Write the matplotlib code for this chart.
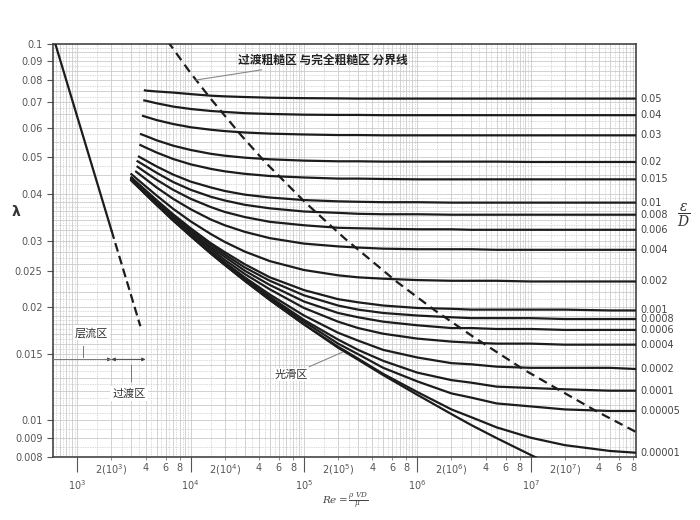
import matplotlib
matplotlib.use("Agg")
import matplotlib.pyplot as plt
import numpy as np

# ---- data ----
re_grid = [4e3, 5e3, 7e3, 1e4, 1.5e4, 2e4, 3e4, 5e4, 1e5, 2e5, 3e5, 5e5,
           1e6, 2e6, 3e6, 5e6, 1e7, 2e7, 5e7, 8.5e7]

rel_rough = ['0.05', '0.04', '0.03', '0.02', '0.015', '0.01', '0.008', '0.006',
             '0.004', '0.002', '0.001', '0.0008', '0.0006', '0.0004', '0.0002',
             '0.0001', '0.00005', '0.00001', '']

re_start = [3950, 3900, 3800, 3650, 3600, 3500, 3400, 3400, 3300, 3000, 3000,
            3000, 3000, 3000, 3000, 3000, 3000, 3000, 3000]
lam_start = [0.0753, 0.0708, 0.0644, 0.0576, 0.0539, 0.0502, 0.0488, 0.0472,
             0.0458, 0.0451, 0.0442, 0.0441, 0.0439, 0.0437, 0.0436, 0.0435,
             0.0435, 0.0434, 0.0434]

lam_005 = [0.0752, 0.0748, 0.0743, 0.0736, 0.0729, 0.0726, 0.0723, 0.0720, 0.0718, 0.0717,
           0.0716, 0.0716, 0.0716, 0.0716, 0.0716, 0.0716, 0.0716, 0.0716, 0.0716, 0.0716]
lam_004 = [0.0707, 0.0696, 0.0682, 0.0672, 0.0664, 0.0660, 0.0655, 0.0652, 0.0649, 0.0648,
           0.0648, 0.0647, 0.0647, 0.0647, 0.0647, 0.0647, 0.0647, 0.0647, 0.0647, 0.0647]
lam_003 = [0.0641, 0.0628, 0.0613, 0.0601, 0.0592, 0.0587, 0.0582, 0.0578, 0.0575, 0.0573,
           0.0573, 0.0572, 0.0572, 0.0572, 0.0572, 0.0572, 0.0572, 0.0572, 0.0572, 0.0572]
lam_002 = [0.0570, 0.0555, 0.0537, 0.0523, 0.0511, 0.0505, 0.0499, 0.0494, 0.0490, 0.0488,
           0.0488, 0.0487, 0.0487, 0.0487, 0.0487, 0.0487, 0.0486, 0.0486, 0.0486, 0.0486]
lam_0015 = [0.0531, 0.0515, 0.0495, 0.0479, 0.0466, 0.0459, 0.0452, 0.0446, 0.0442, 0.0439,
            0.0439, 0.0438, 0.0437, 0.0437, 0.0437, 0.0437, 0.0437, 0.0437, 0.0437, 0.0437]
lam_001 = [0.0491, 0.0473, 0.0450, 0.0431, 0.0416, 0.0407, 0.0398, 0.0391, 0.0385, 0.0382,
           0.0381, 0.0380, 0.0380, 0.0379, 0.0379, 0.0379, 0.0379, 0.0379, 0.0379, 0.0379]
lam_0008 = [0.0474, 0.0455, 0.0430, 0.0410, 0.0393, 0.0384, 0.0374, 0.0366, 0.0359, 0.0356,
            0.0354, 0.0353, 0.0353, 0.0352, 0.0352, 0.0352, 0.0352, 0.0352, 0.0352, 0.0352]
lam_0006 = [0.0456, 0.0436, 0.0410, 0.0388, 0.0369, 0.0358, 0.0347, 0.0337, 0.0330, 0.0325,
            0.0324, 0.0323, 0.0322, 0.0322, 0.0321, 0.0321, 0.0321, 0.0321, 0.0321, 0.0321]
lam_0004 = [0.0438, 0.0416, 0.0388, 0.0364, 0.0342, 0.0330, 0.0317, 0.0305, 0.0295, 0.0290,
            0.0288, 0.0286, 0.0285, 0.0285, 0.0285, 0.0284, 0.0284, 0.0284, 0.0284, 0.0284]
lam_0002 = [0.0419, 0.0396, 0.0365, 0.0338, 0.0313, 0.0298, 0.0281, 0.0265, 0.0251, 0.0243,
            0.0240, 0.0238, 0.0236, 0.0235, 0.0235, 0.0235, 0.0234, 0.0234, 0.0234, 0.0234]
lam_0001 = [0.0409, 0.0385, 0.0353, 0.0324, 0.0296, 0.0280, 0.0260, 0.0240, 0.0222, 0.0210,
            0.0206, 0.0202, 0.0199, 0.0198, 0.0197, 0.0197, 0.0197, 0.0197, 0.0196, 0.0196]
lam_00008 = [0.0407, 0.0383, 0.0350, 0.0321, 0.0293, 0.0276, 0.0255, 0.0235, 0.0215, 0.0202,
             0.0197, 0.0193, 0.0190, 0.0188, 0.0187, 0.0187, 0.0187, 0.0186, 0.0186, 0.0186]
lam_00006 = [0.0405, 0.0381, 0.0348, 0.0318, 0.0289, 0.0272, 0.0250, 0.0229, 0.0207, 0.0193,
             0.0188, 0.0183, 0.0179, 0.0176, 0.0176, 0.0175, 0.0175, 0.0174, 0.0174, 0.0174]
lam_00004 = [0.0403, 0.0378, 0.0345, 0.0315, 0.0286, 0.0267, 0.0245, 0.0223, 0.0199, 0.0183,
             0.0176, 0.0170, 0.0165, 0.0162, 0.0161, 0.0160, 0.0160, 0.0159, 0.0159, 0.0159]
lam_00002 = [0.0401, 0.0376, 0.0343, 0.0312, 0.0282, 0.0263, 0.0240, 0.0216, 0.0190, 0.0171,
             0.0163, 0.0154, 0.0147, 0.0142, 0.0141, 0.0139, 0.0138, 0.0138, 0.0138, 0.0137]
lam_00001 = [0.0400, 0.0375, 0.0341, 0.0310, 0.0280, 0.0261, 0.0238, 0.0213, 0.0185, 0.0164,
             0.0154, 0.0144, 0.0134, 0.0128, 0.0126, 0.0123, 0.0122, 0.0121, 0.0120, 0.0120]
lam_000005 = [0.0400, 0.0375, 0.0341, 0.0310, 0.0279, 0.0260, 0.0236, 0.0211, 0.0183, 0.0160,
              0.0150, 0.0138, 0.0127, 0.0118, 0.0115, 0.0111, 0.0109, 0.0107, 0.0106, 0.0106]
lam_000001 = [0.0399, 0.0374, 0.0340, 0.0309, 0.0278, 0.0259, 0.0235, 0.0209, 0.0180, 0.0157,
              0.0146, 0.0133, 0.0119, 0.0107, 0.0102, 0.00959, 0.00900, 0.00860, 0.00830, 0.00821]
lam_smooth = [0.0399, 0.0374, 0.0340, 0.0309, 0.0278, 0.0259, 0.0235, 0.0209, 0.0180, 0.0156,
              0.0145, 0.0132, 0.0117, 0.0104, 0.00972, 0.00898, 0.00810, 0.00734, 0.00649, 0.00606]

curves = [lam_005, lam_004, lam_003, lam_002, lam_0015, lam_001, lam_0008, lam_0006,
          lam_0004, lam_0002, lam_0001, lam_00008, lam_00006, lam_00004, lam_00002,
          lam_00001, lam_000005, lam_000001, lam_smooth]

# laminar line (solid part and dashed part)
lam_re_solid = [640, 2000]
lam_f_solid = [0.1, 0.032]
lam_re_dash = [2000, 3600]
lam_f_dash = [0.032, 0.0178]

# boundary between transition and fully rough zone
bound_re = [6270, 9850, 1.5e4, 2.79e4, 4.53e4, 1.03e5, 2.3e5, 6.53e5, 1.43e6,
            3.1e6, 8.53e6, 1.83e7, 3.9e7, 9.5e7]
bound_f = [0.1017, 0.0842, 0.0716, 0.0572, 0.0486, 0.0379, 0.0304, 0.0234, 0.0196,
           0.0167, 0.0137, 0.0120, 0.01054, 0.00916]

y_ticks = [0.008, 0.009, 0.01, 0.015, 0.02, 0.025, 0.03, 0.04, 0.05, 0.06, 0.07, 0.08, 0.09, 0.1]
y_ticklabels = ['0.008', '0.009', '0.01', '0.015', '0.02', '0.025', '0.03', '0.04',
                '0.05', '0.06', '0.07', '0.08', '0.09', '0.1']
decades = [3, 4, 5, 6, 7]

CJK = ['Noto Sans CJK SC', 'DejaVu Sans']
INK = '#1c1c1c'
GRID = '#cbcbcb'

fig = plt.figure(figsize=(7, 5.2), dpi=100)
ax = fig.add_axes([0.0757, 0.1212, 0.8329, 0.7942])
ax.set_xscale('log')
ax.set_yscale('log')
ax.set_xlim(610, 8.5e7)
ax.set_ylim(0.008, 0.1)

# dense background grid (solid + dashed lines like the printed chart)
for n in range(2, 8):
    for k in range(1, 10):
        ax.axvline(k * 10.0 ** n, color=GRID, lw=0.6, zorder=0)
        ax.axvline((k + 0.5) * 10.0 ** n, color=GRID, lw=0.5, ls=(0, (2, 1.5)), zorder=0)
for start, stop, step in [(0.008, 0.02, 0.0005), (0.02, 0.04, 0.001), (0.04, 0.1, 0.0025)]:
    for i, v in enumerate(np.arange(start, stop, step)):
        if i % 2 == 0:
            ax.axhline(v, color=GRID, lw=0.6, zorder=0)
        else:
            ax.axhline(v, color=GRID, lw=0.5, ls=(0, (2, 1.5)), zorder=0)

# friction factor curves
for lab, lam, r0, l0 in zip(rel_rough, curves, re_start, lam_start):
    ax.plot([r0] + re_grid, [l0] + lam, color=INK, lw=1.6, zorder=3)
    if lab:
        ax.text(1.008, lam[-1], lab, transform=ax.get_yaxis_transform(),
                fontsize=7, color='#444', va='center', ha='left')

ax.plot(lam_re_solid, lam_f_solid, color=INK, lw=1.6, zorder=3)
ax.plot(lam_re_dash, lam_f_dash, color=INK, lw=1.6, ls=(0, (4, 2)), zorder=3)
ax.plot(bound_re, bound_f, color=INK, lw=1.6, ls=(0, (4, 2.5)), zorder=3)

# zone labels
ax.annotate('过渡粗糙区 与完全粗糙区 分界线', xy=(1.11e4, 0.0802), xytext=(2.6e4, 0.0905),
            fontsize=8.5, family=CJK, fontweight='bold', color='#222', va='center', ha='left',
            arrowprops=dict(arrowstyle='-', color='#888', lw=0.8, shrinkA=1, shrinkB=0))
ax.text(1330, 0.0171, '层流区', fontsize=8, family=CJK, color='#333', ha='center', va='center',
        bbox=dict(fc='white', ec='none', pad=1.5), zorder=4)
ax.text(2850, 0.0118, '过渡区', fontsize=8, family=CJK, color='#333', ha='center', va='center',
        bbox=dict(fc='white', ec='none', pad=1.5), zorder=4)
ax.annotate('光滑区', xy=(2.2e5, 0.0152), xytext=(7.8e4, 0.01326), fontsize=8, family=CJK,
            color='#333', ha='center', va='center',
            bbox=dict(fc='white', ec='none', pad=1.0),
            arrowprops=dict(arrowstyle='-', color='#888', lw=0.8, shrinkA=2, shrinkB=0))

ax.plot([610, 2000], [0.01453, 0.01453], color='#777', lw=0.7, zorder=4)
ax.annotate('', xy=(2000, 0.01453), xytext=(1750, 0.01453),
            arrowprops=dict(arrowstyle='-|>', color='#444', lw=0.7, mutation_scale=5, shrinkA=0, shrinkB=0))
ax.annotate('', xy=(2000, 0.01453), xytext=(4000, 0.01453),
            arrowprops=dict(arrowstyle='<|-|>', color='#444', lw=0.7, mutation_scale=5, shrinkA=0, shrinkB=0))
ax.plot([1130, 1130], [0.0158, 0.0147], color='#777', lw=0.7, zorder=4)
ax.plot([2950, 2950], [0.0140, 0.0127], color='#777', lw=0.7, zorder=4)

# axes / ticks
ax.set_yticks(y_ticks)
ax.set_yticklabels(y_ticklabels)
ax.yaxis.set_minor_locator(matplotlib.ticker.NullLocator())
ax.tick_params(axis='y', which='major', length=4, width=0.8, labelsize=7, labelcolor='#555', color='#555')

ax.set_xticks([10.0 ** d for d in decades])
ax.set_xticklabels([f'$10^{d}$' for d in decades])
minor_pos, minor_lab = [], []
for d in decades:
    for k in [2, 4, 6, 8]:
        minor_pos.append(k * 10.0 ** d)
        minor_lab.append(f'2(10$^{d}$)' if k == 2 else str(k))
ax.set_xticks(minor_pos, minor=True)
ax.set_xticklabels(minor_lab, minor=True)
ax.tick_params(axis='x', which='major', length=11, width=0.8, pad=4, labelsize=7,
               labelcolor='#555', color='#555')
ax.tick_params(axis='x', which='minor', length=2, width=0.6, pad=2, labelsize=7,
               labelcolor='#555', color='#777')
for s in ax.spines.values():
    s.set_color('#444')
    s.set_linewidth(1.2)

fig.text(0.023, 0.592, 'λ', fontsize=10, color='#333', ha='center', va='center', fontweight='bold')
fig.text(0.976, 0.5865, r'$\dfrac{\varepsilon}{D}$', fontsize=10, color='#333', ha='center', va='center',
         math_fontfamily='dejavuserif')
fig.text(0.493, 0.038, r'$Re=\frac{\rho\ VD}{\mu}$', fontsize=7.5, color='#444', ha='center', va='center',
         math_fontfamily='dejavuserif')

fig.savefig('out.png', dpi=100)
